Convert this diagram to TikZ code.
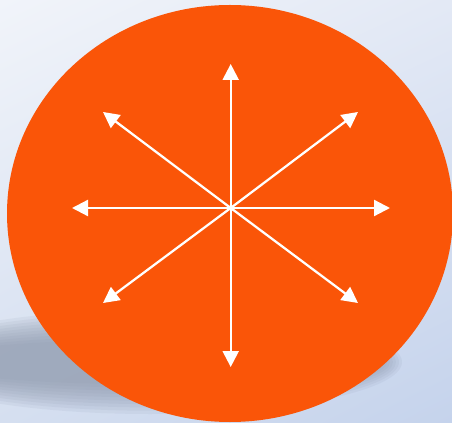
\documentclass[tikz,border=0pt]{standalone}
\usetikzlibrary{arrows.meta,shadings}
\definecolor{bgA}{HTML}{F1F4FA}
\definecolor{bgB}{HTML}{E3E9F5}
\definecolor{bgC}{HTML}{D5DFF0}
\definecolor{bgD}{HTML}{C5D3EC}
\definecolor{shad}{HTML}{8A95AA}
\definecolor{orng}{HTML}{FA5508}
\tikzset{
  ray/.style={draw=white, line width=1.7pt, -{Triangle[length=12pt,width=12pt]}},
}
\begin{document}
\begin{tikzpicture}[x=0.75pt,y=-0.75pt]
\useasboundingbox (0,0) rectangle (452,423);
\shade[upper left=bgA, upper right=bgB, lower left=bgC, lower right=bgD] (0,0) rectangle (452,423);
\begin{scope}
\clip (0,0) rectangle (452,423);
\foreach \k in {0,...,9}{
  \fill[shad, opacity=0.11] (150,362) ellipse ({252-3*\k} and {52-3.3*\k});
}
\fill[orng] (230,213.5) ellipse (223 and 208.5);
\end{scope}
\coordinate (c) at (230.7,208);
\coordinate (n) at (230.7,64);
\coordinate (s) at (230.7,367);
\coordinate (w) at (72,208);
\coordinate (e) at (390,208);
\coordinate (nw) at (103,112);
\coordinate (ne) at (358,112);
\coordinate (sw) at (103,303);
\coordinate (se) at (358,303);
\foreach \t in {n,s,w,e,nw,ne,sw,se}{
  \draw[ray] (c) -- (\t);
}
\end{tikzpicture}
\end{document}
